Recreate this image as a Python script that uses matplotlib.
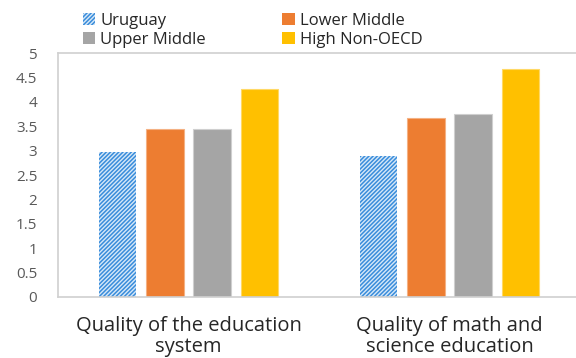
import numpy as np
import matplotlib
matplotlib.use("Agg")
import matplotlib.pyplot as plt
from matplotlib.patches import Patch

categories = ["Quality of the education\nsystem", "Quality of math and\nscience education"]
series_names = ["Uruguay", "Lower Middle", "Upper Middle", "High Non-OECD"]
uruguay = [2.98, 2.89]
lower_middle = [3.44, 3.67]
upper_middle = [3.44, 3.76]
high_non_oecd = [4.26, 4.67]
y_ticks = [0, 0.5, 1, 1.5, 2, 2.5, 3, 3.5, 4, 4.5, 5]
y_tick_labels = ["0", "0.5", "1", "1.5", "2", "2.5", "3", "3.5", "4", "4.5", "5"]

plt.rcParams["font.family"] = ["Open Sans", "DejaVu Sans"]
plt.rcParams["hatch.linewidth"] = 1.1

fig = plt.figure(figsize=(5.76, 3.58), dpi=100)
ax = fig.add_axes([58 / 576, 61 / 358, 522 / 576, 244 / 358])

x = np.arange(len(categories))
width = 0.144
step = 0.181
offsets = (np.arange(4) - 1.5) * step

hatch_blue = "#3A8DDB"
styles = [
    dict(facecolor="#D6E8F8", edgecolor=hatch_blue, hatch="////////", linewidth=0),
    dict(facecolor="#ED7D31", edgecolor="#F4B183", linewidth=0.8),
    dict(facecolor="#A5A5A5", edgecolor="#CFCFCF", linewidth=0.8),
    dict(facecolor="#FFC000", edgecolor="#FFD966", linewidth=0.8),
]
data = [uruguay, lower_middle, upper_middle, high_non_oecd]
for vals, off, st in zip(data, offsets, styles):
    ax.bar(x + off, vals, width, zorder=2, **st)

ax.set_xlim(-0.5, 1.5)
ax.set_ylim(0, 5)
ax.set_yticks(y_ticks)
ax.set_yticklabels(y_tick_labels)
ax.set_xticks(x)
ax.set_xticklabels(categories, fontsize=14.5, color="#262626", linespacing=1.05)
ax.tick_params(axis="y", length=0, pad=15, labelsize=11, labelcolor="#595959")
ax.tick_params(axis="x", length=0, pad=14)
for s in ["left", "top", "bottom", "right"]:
    ax.spines[s].set_color("#D0D0D0")
    ax.spines[s].set_linewidth(1.2)

handles = [
    Patch(facecolor="#D6E8F8", edgecolor=hatch_blue, hatch="////////", linewidth=0),
    Patch(facecolor="#ED7D31"),
    Patch(facecolor="#A5A5A5"),
    Patch(facecolor="#FFC000"),
]
order = [0, 2, 1, 3]
fig.legend([handles[i] for i in order], [series_names[i] for i in order],
           ncol=2, loc="upper left", bbox_to_anchor=(76 / 576, 1 - 6 / 358),
           frameon=False, fontsize=12, handlelength=0.75, handleheight=0.75,
           handletextpad=0.3, columnspacing=4.6, labelspacing=0.2,
           borderaxespad=0.0, labelcolor="#262626")

fig.savefig("out.png", dpi=100)
